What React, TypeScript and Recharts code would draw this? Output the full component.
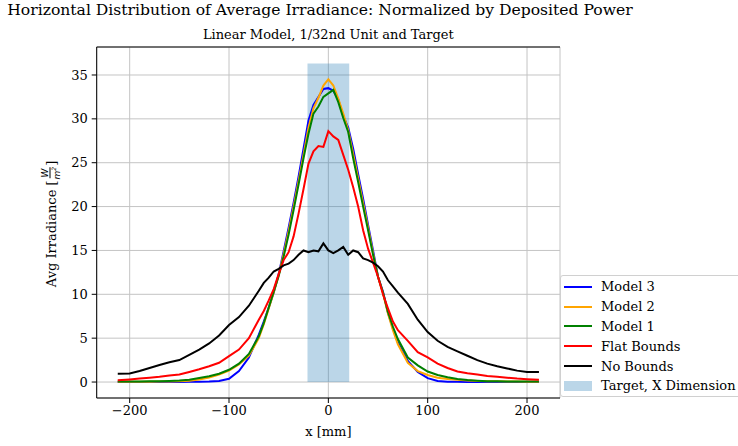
import React from 'react';
import { LineChart, Line, XAxis, YAxis, CartesianGrid, ReferenceArea } from 'recharts';

const X_MM = [-212, -200, -190, -180, -170, -160, -150, -140, -130, -120, -110, -100, -90, -80, -70,
  -65, -60, -55, -50, -45, -40, -35, -30, -25, -20, -15, -10, -5, 0, 5, 10, 15, 20, 25, 30, 35, 40, 45, 50, 55, 60, 65,
  70, 80, 90, 100, 110, 120, 130, 140, 150, 160, 170, 180, 190, 200, 212];

const MODEL_3 = [0, 0, 0, 0, 0, 0, 0.01, 0.02, 0.03, 0.05, 0.12, 0.38, 1.25, 2.8, 5.4,
  6.9, 8.5, 10.2, 12.3, 14.9, 17.6, 20.4, 23.4, 26.6, 29.8, 31.6, 32.5, 33.4, 33.5, 33.2, 32.2, 30.3, 29.0, 26.6, 23.7, 20.9, 17.9, 15.0, 12.0, 10.3, 7.9, 6.1,
  4.5, 2.4, 1.15, 0.45, 0.12, 0.04, 0.02, 0.01, 0, 0, 0, 0, 0, 0, 0];

const MODEL_2 = [0.02, 0.02, 0.03, 0.04, 0.05, 0.07, 0.1, 0.15, 0.3, 0.5, 0.85, 1.3, 2.0, 3.0, 5.0,
  6.6, 8.4, 10.2, 12.2, 14.6, 17.2, 20.0, 22.9, 25.9, 29.0, 31.2, 32.4, 33.8, 34.5, 33.8, 32.3, 30.6, 28.7, 26.0, 23.2, 20.4, 17.6, 14.7, 12.0, 10.1, 7.8, 5.9,
  4.3, 2.2, 1.25, 0.8, 0.5, 0.35, 0.25, 0.18, 0.13, 0.1, 0.08, 0.06, 0.05, 0.04, 0.04];

const MODEL_1 = [0.05, 0.05, 0.06, 0.08, 0.1, 0.13, 0.18, 0.27, 0.45, 0.65, 0.95, 1.4, 2.1, 3.2, 5.2,
  6.7, 8.5, 10.3, 12.1, 14.3, 16.8, 19.6, 22.5, 25.5, 28.3, 30.6, 31.4, 32.5, 32.9, 33.3, 31.9, 30.1, 28.5, 25.5, 22.8, 20.0, 17.3, 14.5, 12.0, 10.2, 8.0, 6.3,
  4.9, 2.8, 1.9, 1.2, 0.8, 0.55, 0.35, 0.22, 0.15, 0.1, 0.08, 0.06, 0.06, 0.05, 0.05];

const FLAT_BOUNDS = [0.2, 0.3, 0.4, 0.5, 0.6, 0.75, 0.85, 1.15, 1.45, 1.8, 2.2, 2.95, 3.7, 5.0, 7.1,
  8.1, 9.3, 10.6, 12.3, 13.9, 14.8, 16.6, 19.2, 22.0, 24.9, 26.3, 26.9, 26.8, 28.6, 28.0, 27.6, 25.9, 24.2, 22.2, 20.0, 17.3, 15.2, 13.6, 12.0, 10.0, 8.4, 6.9,
  5.9, 4.7, 3.4, 2.8, 2.1, 1.6, 1.2, 1.0, 0.85, 0.7, 0.6, 0.5, 0.4, 0.33, 0.27];

const NO_BOUNDS = [0.95, 0.97, 1.25, 1.6, 1.95, 2.25, 2.5, 3.1, 3.7, 4.4, 5.3, 6.5, 7.4, 8.7, 10.4,
  11.3, 11.9, 12.6, 12.9, 13.3, 13.5, 13.9, 14.5, 15.0, 14.8, 15.0, 14.9, 15.8, 15.0, 14.7, 15.0, 15.4, 14.5, 15.0, 14.8, 14.1, 13.9, 13.6, 13.2, 12.6, 11.6, 10.9,
  10.2, 8.9, 7.1, 5.7, 4.7, 4.0, 3.5, 3.0, 2.5, 2.1, 1.8, 1.55, 1.3, 1.15, 1.15];

const TARGET_X = [-21, 21];
const TARGET_HEIGHT = 36.3;

const X_TICKS = [-200, -100, 0, 100, 200];
const Y_TICKS = [0, 5, 10, 15, 20, 25, 30, 35];
const X_DOMAIN = [-233.2, 233.2];
const Y_DOMAIN = [-1.82, 38.19];

const SERIES = [
  { key: 'm3', name: 'Model 3', color: '#0000ff', values: MODEL_3 },
  { key: 'm2', name: 'Model 2', color: '#ffa500', values: MODEL_2 },
  { key: 'm1', name: 'Model 1', color: '#008000', values: MODEL_1 },
  { key: 'flat', name: 'Flat Bounds', color: '#ff0000', values: FLAT_BOUNDS },
  { key: 'none', name: 'No Bounds', color: '#000000', values: NO_BOUNDS },
];
const TARGET_NAME = 'Target, X Dimension';
const TARGET_COLOR = '#1f77b4';

const data = X_MM.map((x, i) => {
  const row: Record<string, number> = { x };
  SERIES.forEach((s) => { row[s.key] = s.values[i]; });
  return row;
});

const FONT = '"DejaVu Serif", serif';
const fmt = (v: number) => String(v).replace('-', '\u2212');
const tickStyle = { fontFamily: FONT, fontSize: 13, fill: '#000' };

export default function App() {
  return (
    <div style={{ position: 'absolute', left: 0, top: 0, width: 738, height: 446, overflow: 'hidden', background: '#fff', fontFamily: FONT, color: '#000' }}>
      <LineChart width={738} height={446} data={data} margin={{ top: 46, right: 178, bottom: 18, left: 0 }}>
        <ReferenceArea x1={TARGET_X[0]} x2={TARGET_X[1]} y1={0} y2={TARGET_HEIGHT} fill={TARGET_COLOR} fillOpacity={0.3} stroke="none" />
        <CartesianGrid stroke="#c4c4c4" strokeWidth={1} />
        <XAxis dataKey="x" type="number" domain={X_DOMAIN} ticks={X_TICKS} allowDataOverflow height={30}
          tickFormatter={fmt} tick={tickStyle} tickSize={5} tickMargin={3}
          axisLine={{ stroke: '#000', strokeWidth: 1 }} tickLine={{ stroke: '#000' }} />
        <XAxis xAxisId="top" orientation="top" type="number" domain={X_DOMAIN} allowDataOverflow height={1}
          tick={false} tickLine={false} axisLine={{ stroke: '#000', strokeWidth: 1 }} />
        <YAxis type="number" domain={Y_DOMAIN} ticks={Y_TICKS} allowDataOverflow width={96.7}
          tickFormatter={fmt} tick={tickStyle} tickSize={5} tickMargin={4}
          axisLine={{ stroke: '#000', strokeWidth: 1 }} tickLine={{ stroke: '#000' }} />
        <YAxis yAxisId="right" orientation="right" type="number" domain={Y_DOMAIN} allowDataOverflow width={0}
          tick={false} tickLine={false} axisLine={{ stroke: '#000', strokeWidth: 1 }} />
        {SERIES.map((s) => (
          <Line key={s.key} type="linear" dataKey={s.key} name={s.name} stroke={s.color} strokeWidth={2}
            dot={false} activeDot={false} isAnimationActive={false} />
        ))}
      </LineChart>

      <div style={{ position: 'absolute', left: 0, width: 640, top: 0, textAlign: 'center', fontSize: 15.6, lineHeight: '20px', whiteSpace: 'nowrap' }}>
        Horizontal Distribution of Average Irradiance: Normalized by Deposited Power
      </div>
      <div style={{ position: 'absolute', left: 96.7, width: 463.3, top: 26, textAlign: 'center', fontSize: 13, lineHeight: '17px', whiteSpace: 'nowrap' }}>
        Linear Model, 1/32nd Unit and Target
      </div>
      <div style={{ position: 'absolute', left: 96.7, width: 463.3, top: 423, textAlign: 'center', fontSize: 13, lineHeight: '17px', whiteSpace: 'nowrap' }}>
        x [mm]
      </div>
      <div style={{ position: 'absolute', left: 51, top: 224, transform: 'translate(-50%, -50%) rotate(-90deg)', fontSize: 13, whiteSpace: 'nowrap', display: 'flex', alignItems: 'center' }}>
        <span>Avg Irradiance [</span>
        <span style={{ display: 'inline-flex', flexDirection: 'column', alignItems: 'center', fontSize: 9, fontStyle: 'italic', lineHeight: 1, fontFamily: '"DejaVu Sans", sans-serif', margin: '0 1px' }}>
          <span style={{ borderBottom: '0.8px solid #000', padding: '0 1px' }}>W</span>
          <span>m<sup style={{ fontSize: 6 }}>2</sup></span>
        </span>
        <span>]</span>
      </div>

      <div style={{ position: 'absolute', left: 560, top: 275, width: 200, height: 122, border: '1px solid #d0d0d0', borderRadius: 3, background: 'rgba(255,255,255,0.8)', boxSizing: 'border-box', paddingTop: 1 }}>
        {SERIES.map((s) => (
          <div key={s.key} style={{ height: 19.8, display: 'flex', alignItems: 'center', fontSize: 13 }}>
            <div style={{ marginLeft: 3, width: 28, height: 0, borderTop: `2px solid ${s.color}` }} />
            <span style={{ marginLeft: 9 }}>{s.name}</span>
          </div>
        ))}
        <div style={{ height: 19.8, display: 'flex', alignItems: 'center', fontSize: 13 }}>
          <div style={{ marginLeft: 3, width: 28, height: 10, background: TARGET_COLOR, opacity: 0.3 }} />
          <span style={{ marginLeft: 9 }}>{TARGET_NAME}</span>
        </div>
      </div>
    </div>
  );
}
